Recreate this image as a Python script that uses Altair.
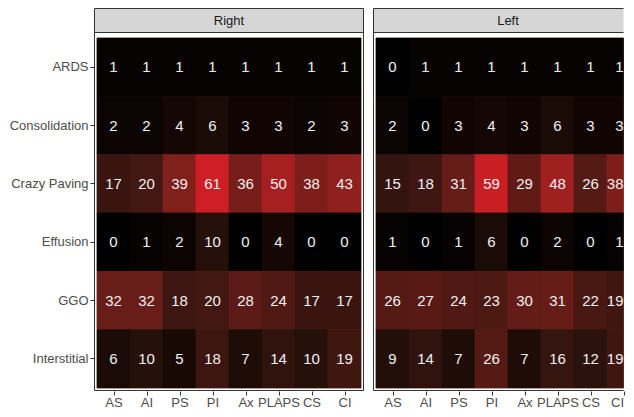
import altair as alt
import pandas as pd

regions = ["AS", "AI", "PS", "PI", "Ax", "PLAPS", "CS", "CI"]
findings = ["ARDS", "Consolidation", "Crazy Paving", "Effusion", "GGO", "Interstitial"]
panels = ["Right", "Left"]

right_vals = [
    [1, 1, 1, 1, 1, 1, 1, 1],
    [2, 2, 4, 6, 3, 3, 2, 3],
    [17, 20, 39, 61, 36, 50, 38, 43],
    [0, 1, 2, 10, 0, 4, 0, 0],
    [32, 32, 18, 20, 28, 24, 17, 17],
    [6, 10, 5, 18, 7, 14, 10, 19],
]
left_vals = [
    [0, 1, 1, 1, 1, 1, 1, 1],
    [2, 0, 3, 4, 3, 6, 3, 3],
    [15, 18, 31, 59, 29, 48, 26, 38],
    [1, 0, 1, 6, 0, 2, 0, 1],
    [26, 27, 24, 23, 30, 31, 22, 19],
    [9, 14, 7, 26, 7, 16, 12, 19],
]

rows = []
for panel, vals in zip(panels, [right_vals, left_vals]):
    for fi, f in enumerate(findings):
        for ri, r in enumerate(regions):
            rows.append({"panel": panel, "finding": f, "region": r, "idx": ri,
                         "value": vals[fi][ri]})
df = pd.DataFrame(rows)

FONT = "Liberation Sans"
NCOL = len(regions)
COLW = 33.0
CW = COLW * NCOL          # full cell-area width
H = 350                   # cell-area height
RIGHT_VIEW = COLW * (NCOL - 0.5)   # right panel is cut off at the CI column centre

label_expr = "[" + ",".join("'%s'" % r for r in regions) + "][floor(datum.value)]"

fill_scale = alt.Scale(domain=[0, 61], range=["#000000", "#cf1f26"], interpolate="lab")
EDGE = "#333333"


def panel_chart(name, view_w, show_y, cut):
    data = df[df.panel == name]
    dom_max = view_w / COLW
    xscale = alt.Scale(domain=[0, dom_max], range=[0, view_w], nice=False, zero=False,
                       clamp=True)
    xaxis = alt.Axis(title=None, domain=False, grid=False, ticks=True, tickColor=EDGE,
                     tickSize=4, tickWidth=1, offset=3, labelFontSize=13,
                     labelColor="#4d4d4d", labelPadding=1, labelFont=FONT, labelAngle=0,
                     values=[i + 0.5 for i in range(NCOL)], labelExpr=label_expr,
                     labelFlush=cut, labelOverlap=False)
    if show_y:
        yaxis = alt.Axis(title=None, domain=False, grid=False, ticks=True, tickColor=EDGE,
                         tickSize=4, tickWidth=1, offset=3, labelFontSize=13,
                         labelColor="#4d4d4d", labelPadding=2, labelFont=FONT)
    else:
        yaxis = None
    y = alt.Y("finding:N", sort=findings,
              scale=alt.Scale(domain=findings, paddingInner=0, paddingOuter=0),
              axis=yaxis)
    base = alt.Chart(data).transform_calculate(
        x0="datum.idx", x1="datum.idx + 1", xc="datum.idx + 0.5")
    cells = base.mark_rect(strokeWidth=0.8).encode(
        x=alt.X("x0:Q", scale=xscale, axis=xaxis),
        x2="x1:Q",
        y=y,
        color=alt.Color("value:Q", scale=fill_scale, legend=None),
        stroke=alt.Stroke("value:Q", scale=fill_scale, legend=None),
    )
    tx = alt.X("xc:Q", scale=xscale, axis=xaxis)
    layers_text = []
    if cut:
        layers_text.append(base.transform_filter("datum.idx < %d" % (NCOL - 1)).mark_text(
            color="#f0f0f0", fontSize=15, font=FONT).encode(x=tx, y=y, text="value:Q"))
        layers_text.append(base.transform_filter("datum.idx == %d" % (NCOL - 1)).mark_text(
            color="#f0f0f0", fontSize=15, font=FONT, align="right").encode(
            x=tx, y=y, text="value:Q"))
    else:
        layers_text.append(base.mark_text(color="#f0f0f0", fontSize=15, font=FONT).encode(
            x=tx, y=y, text="value:Q"))

    lab = alt.Chart(pd.DataFrame({"label": [name]}))
    deco = []
    if cut:
        right_edge = view_w
        deco.append(lab.mark_rect(fill="#d6d6d6", strokeWidth=0).encode(
            x=alt.value(-2.5), x2=alt.value(right_edge), y=alt.value(-29.5),
            y2=alt.value(-5.5)))
        for yy in (-29.5, -5.5, H + 2.5):
            deco.append(lab.mark_rule(color=EDGE, strokeWidth=1).encode(
                x=alt.value(-2.5), x2=alt.value(right_edge), y=alt.value(yy)))
        deco.append(lab.mark_rule(color=EDGE, strokeWidth=1).encode(
            x=alt.value(-2.5), y=alt.value(-29.5), y2=alt.value(H + 2.5)))
    else:
        right_edge = view_w + 2.5
        deco.append(lab.mark_rect(filled=False, stroke=EDGE, strokeWidth=1).encode(
            x=alt.value(-2.5), x2=alt.value(right_edge), y=alt.value(-5.5),
            y2=alt.value(H + 2.5)))
        deco.append(lab.mark_rect(fill="#d6d6d6", stroke=EDGE, strokeWidth=1).encode(
            x=alt.value(-2.5), x2=alt.value(right_edge), y=alt.value(-29.5),
            y2=alt.value(-5.5)))
    strip_text = lab.mark_text(fontSize=13, font=FONT, color="#1a1a1a").encode(
        text="label:N", x=alt.value(CW / 2), y=alt.value(-17.5))
    return alt.layer(*deco, cells, *layers_text, strip_text).resolve_scale(
        x="shared").properties(width=view_w, height=H)


chart = alt.hconcat(
    panel_chart("Right", CW, True, False),
    panel_chart("Left", RIGHT_VIEW, False, True),
    spacing=9,
).properties(
    padding={"left": 1, "top": 0, "right": 0, "bottom": 0},
    background="white",
).configure_view(stroke=None).configure_concat(spacing=9)

chart.save("out.html", embed_options={"renderer": "svg", "actions": False})
